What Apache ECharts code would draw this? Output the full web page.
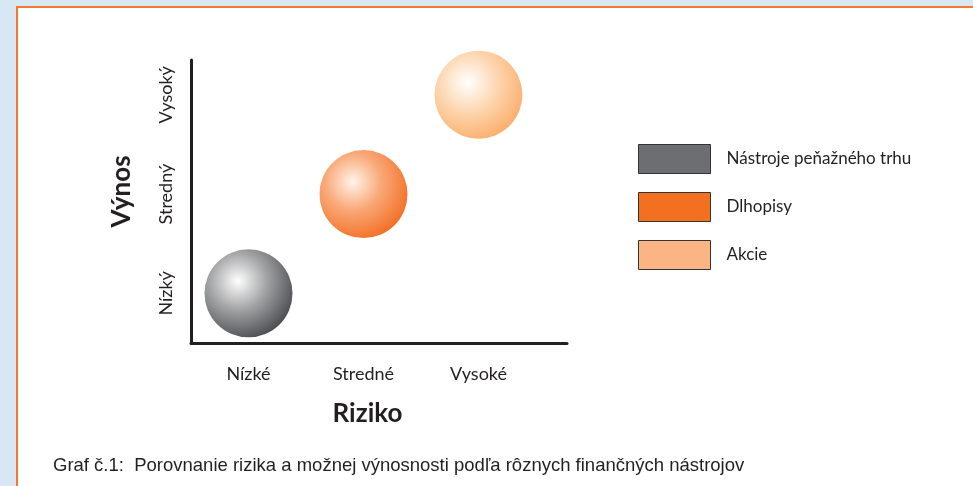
<!DOCTYPE html>
<html>
<head>
<meta charset="utf-8">
<script src="https://cdn.jsdelivr.net/npm/echarts@6/dist/echarts.min.js"></script>
<style>
    html, body { margin: 0; padding: 0; background: #d7e8f4; }
    #chart { width: 973px; height: 486px; }
</style>
</head>
<body>
<div id="chart"></div>
<script>
const riskLabels = ['Nízké', 'Stredné', 'Vysoké'];
const returnLabels = ['Nízký', 'Stredný', 'Vysoký'];
const seriesNames = ['Nástroje peňažného trhu', 'Dlhopisy', 'Akcie'];
const seriesRisk = [0, 1, 2];
const seriesReturn = [0, 1, 2];
const legendColors = ['#6d6e71', '#f37021', '#fbb584'];

const FONT = 'Lato, "Open Sans", sans-serif';

// sphere shading per series
const sphereStops = [
    [{offset: 0, color: '#ffffff'}, {offset: 0.45, color: '#a3a4a6'}, {offset: 1, color: '#444548'}],
    [{offset: 0, color: '#fff3ea'}, {offset: 0.45, color: '#f9a877'}, {offset: 1, color: '#f26a1e'}],
    [{offset: 0, color: '#ffffff'}, {offset: 0.5, color: '#fdd3ab'}, {offset: 1, color: '#fbab66'}]
];

let chart = echarts.init(document.getElementById('chart'));

let series = seriesNames.map(function (name, i) {
    return {
        name: name,
        type: 'scatter',
        symbolSize: 88,
        data: [[seriesRisk[i], seriesReturn[i]]],
        itemStyle: {
            opacity: 1,
            color: {
                type: 'radial',
                x: 0.38,
                y: 0.36,
                r: 0.72,
                colorStops: sphereStops[i]
            }
        },
        emphasis: {disabled: true}
    };
});

chart.setOption({
    animation: false,
    backgroundColor: '#d7e8f4',
    graphic: [
        {
            type: 'rect',
            shape: {x: 17, y: 7, width: 1000, height: 520},
            style: {fill: '#ffffff', stroke: '#f47a2c', lineWidth: 2},
            z: -10
        },
        {
            type: 'text',
            left: 53,
            top: 456,
            style: {
                text: 'Graf č.1:  Porovnanie rizika a možnej výnosnosti podľa rôznych finančných nástrojov',
                font: '18.5px "Liberation Sans", Arial, sans-serif',
                fill: '#231f20'
            }
        }
    ],
    legend: {
        orient: 'vertical',
        left: 638,
        top: 144,
        padding: 0,
        itemWidth: 72,
        itemHeight: 29,
        itemGap: 18,
        icon: 'rect',
        selectedMode: false,
        textStyle: {fontFamily: FONT, fontSize: 17, color: '#231f20', padding: [0, 0, 0, 11]},
        data: seriesNames.map(function (name, i) {
            return {
                name: name,
                itemStyle: {color: legendColors[i], borderColor: '#333333', borderWidth: 1}
            };
        })
    },
    grid: {left: 191, top: 60, width: 376, height: 283},
    xAxis: {
        type: 'value',
        min: -0.5,
        max: 2.77,
        name: 'Riziko',
        nameLocation: 'middle',
        nameGap: 58,
        nameTextStyle: {fontFamily: FONT, fontSize: 26, fontWeight: 'bold', color: '#231f20', padding: [0, 0, 0, -23]},
        axisLine: {onZero: false, lineStyle: {color: '#231f20', width: 3}},
        axisTick: {show: false},
        splitLine: {show: false},
        axisLabel: {
            customValues: seriesRisk,
            margin: 22,
            fontFamily: FONT,
            fontSize: 18,
            color: '#231f20',
            formatter: function (v) { return riskLabels[Math.round(v)]; }
        }
    },
    yAxis: {
        type: 'value',
        min: -0.5,
        max: 2.35,
        name: 'Výnos',
        nameLocation: 'middle',
        nameGap: 56,
        nameRotate: 90,
        nameTextStyle: {fontFamily: FONT, fontSize: 26, fontWeight: 'bold', color: '#231f20', padding: [0, 0, 0, 20]},
        axisLine: {onZero: false, lineStyle: {color: '#231f20', width: 3}},
        axisTick: {show: false},
        splitLine: {show: false},
        axisLabel: {
            customValues: seriesReturn,
            rotate: 90,
            margin: 16,
            fontFamily: FONT,
            fontSize: 18,
            color: '#231f20',
            formatter: function (v) { return returnLabels[Math.round(v)]; }
        }
    },
    series: series
});

window.addEventListener('resize', function () {
    chart.resize();
});
</script>
</body>
</html>
